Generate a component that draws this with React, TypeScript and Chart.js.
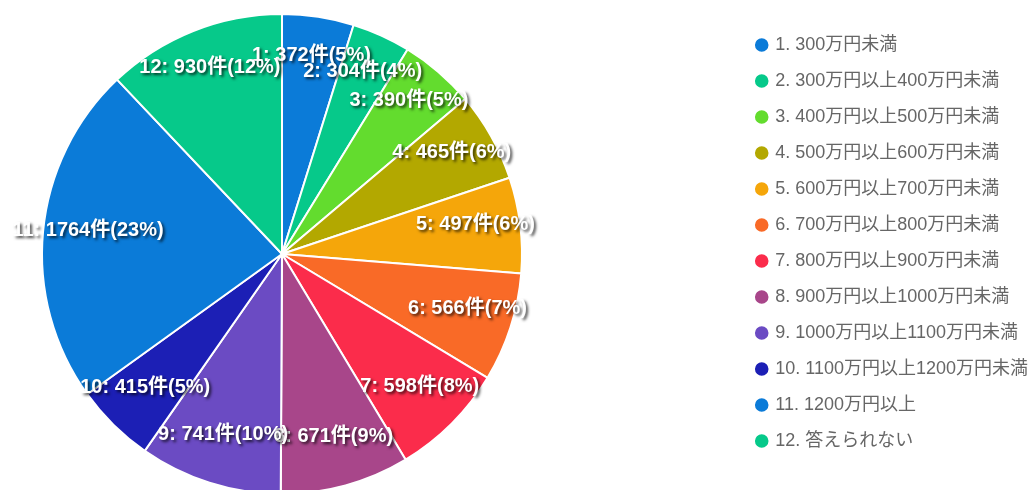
import React, { useEffect, useRef } from "react";
import { Chart, registerables } from "chart.js";

Chart.register(...registerables);

const categories = [
  "1. 300万円未満",
  "2. 300万円以上400万円未満",
  "3. 400万円以上500万円未満",
  "4. 500万円以上600万円未満",
  "5. 600万円以上700万円未満",
  "6. 700万円以上800万円未満",
  "7. 800万円以上900万円未満",
  "8. 900万円以上1000万円未満",
  "9. 1000万円以上1100万円未満",
  "10. 1100万円以上1200万円未満",
  "11. 1200万円以上",
  "12. 答えられない",
];

const counts = [372, 304, 390, 465, 497, 566, 598, 671, 741, 415, 1764, 930];

const colors = [
  "#0b7bd8",
  "#06c98a",
  "#63dc2e",
  "#b3a800",
  "#f5a60a",
  "#f96a27",
  "#fb2c4b",
  "#a8468a",
  "#6b4bc3",
  "#1c1fb5",
  "#0b7bd8",
  "#06c98a",
];

const unit = "件";

const PIE_CX = 282;
const PIE_CY = 254;
const PIE_R = 241;

const pieAreaPlugin = {
  id: "pieArea",
  afterLayout(chart: any) {
    const a = chart.chartArea;
    a.left = PIE_CX - PIE_R;
    a.right = PIE_CX + PIE_R;
    a.top = PIE_CY - PIE_R;
    a.bottom = PIE_CY + PIE_R;
    a.width = 2 * PIE_R;
    a.height = 2 * PIE_R;
  },
};

const sliceLabelPlugin = {
  id: "sliceLabels",
  afterDatasetsDraw(chart: any) {
    const ctx = chart.ctx;
    const meta = chart.getDatasetMeta(0);
    const data = chart.data.datasets[0].data as number[];
    const total = data.reduce((s, v) => s + v, 0);
    ctx.save();
    ctx.font = "bold 20px 'Liberation Sans', 'Noto Sans CJK JP', sans-serif";
    ctx.textAlign = "center";
    ctx.textBaseline = "alphabetic";
    meta.data.forEach((arc: any, i: number) => {
      const { x, y, startAngle, endAngle, outerRadius } = arc.getProps(
        ["x", "y", "startAngle", "endAngle", "outerRadius"],
        true
      );
      const mid = (startAngle + endAngle) / 2;
      const d = outerRadius * 0.812;
      const tx = x + Math.cos(mid) * d;
      const ty = y + Math.sin(mid) * d;
      const pct = Math.round((data[i] / total) * 100);
      const text = `${i + 1}: ${data[i]}${unit}(${pct}%)`;
      ctx.shadowColor = "rgba(0,0,0,0.75)";
      ctx.shadowOffsetX = 2;
      ctx.shadowOffsetY = 2;
      ctx.shadowBlur = 3;
      ctx.fillStyle = "#ffffff";
      ctx.fillText(text, tx, ty);
    });
    ctx.restore();
  },
};

export default function App() {
  const ref = useRef<HTMLCanvasElement | null>(null);

  useEffect(() => {
    document.body.style.margin = "0";
    document.body.style.overflow = "hidden";
    const canvas = ref.current;
    if (!canvas) return;
    const chart = new Chart(canvas, {
      type: "pie",
      data: {
        labels: categories,
        datasets: [
          {
            data: counts,
            backgroundColor: colors,
            borderColor: "#ffffff",
            borderWidth: 2,
            clip: false as any,
          },
        ],
      },
      options: {
        responsive: false,
        animation: false,
        maintainAspectRatio: false,
        layout: { padding: { top: 0, bottom: 14, left: 0, right: 0 } },
        plugins: {
          legend: {
            position: "right",
            align: "center",
            labels: {
              usePointStyle: true,
              pointStyle: "circle",
              boxWidth: 9,
              boxHeight: 11,
              padding: 18,
              color: "#666666",
              font: {
                size: 18,
                family: "'Liberation Sans', 'Noto Sans CJK JP', sans-serif",
              },
            },
          },
          tooltip: { enabled: false },
        },
      },
      plugins: [pieAreaPlugin, sliceLabelPlugin],
    });
    return () => chart.destroy();
  }, []);

  return (
    <div style={{ width: 1030, height: 490, overflow: "hidden" }}>
      <canvas ref={ref} width={1038} height={500} style={{ display: "block" }} />
    </div>
  );
}
